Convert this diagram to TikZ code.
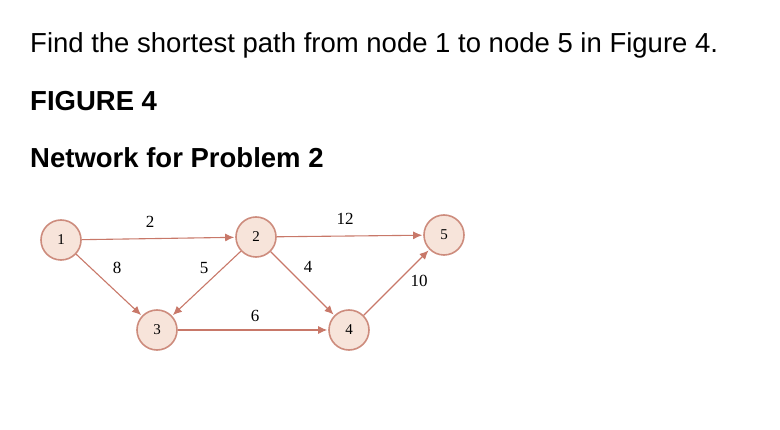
\documentclass[tikz,border=0pt]{standalone}
\usepackage{fontspec}
\setmainfont{Liberation Sans}
\newfontfamily\netfont{Liberation Serif}
\usetikzlibrary{positioning, arrows.meta}
\definecolor{ringc}{RGB}{205,140,125}
\definecolor{fillc}{RGB}{247,228,218}
\definecolor{arrc}{RGB}{200,120,105}
\begin{document}
\begin{tikzpicture}[x=1pt,y=-1pt]
\tikzstyle{circ}=[circle, minimum size = 40pt, inner sep=0pt, line width=1.6pt, draw=ringc, fill=fillc, font=\netfont\fontsize{15}{15}\selectfont]
\tikzstyle{connect}=[-{Latex[length=9pt,width=8pt]}, line width=1.1pt, draw=arrc, shorten >=1pt]
\tikzstyle{wt}=[font=\netfont\fontsize{17}{17}\selectfont, inner sep=1pt]
\tikzstyle{head}=[anchor=base west, inner sep=0pt, font=\fontsize{27.5}{27.5}\selectfont]
\useasboundingbox (0,0) rectangle (780,430);
% 1. Texts
%%%%%%%%%%
\node[head] (task) at (30,53) {Find the shortest path from node 1 to node 5 in Figure 4.};
\node[head] (fig) at (30,111) {\bfseries FIGURE 4};
\node[head] (cap) at (30,168) {\bfseries Network for Problem 2};
% 2. Nodes
%%%%%%%%%%
\node[circ] (n1) at (61,240) {1};
\node[circ] (n2) at (256,237) {2};
\node[circ] (n5) at (444,235) {5};
\node[circ] (n3) at (157,330) {3};
\node[circ] (n4) at (349,330) {4};
% 3. Arrows
%%%%%%%%%%%
\path (n1) edge [connect] (n2)
      (n1) edge [connect] (n3)
      (n2) edge [connect] (n3)
      (n2) edge [connect] (n4)
      (n2) edge [connect] (n5)
      (n3) edge [connect] (n4)
      (n4) edge [connect] (n5);
\node[wt] (w12) at (150,222) {2};
\node[wt] (w13) at (117,268) {8};
\node[wt] (w23) at (204,268) {5};
\node[wt] (w24) at (308,267) {4};
\node[wt] (w25) at (345,219) {12};
\node[wt] (w34) at (255,316) {6};
\node[wt] (w45) at (419,281) {10};
\end{tikzpicture}
\end{document}
